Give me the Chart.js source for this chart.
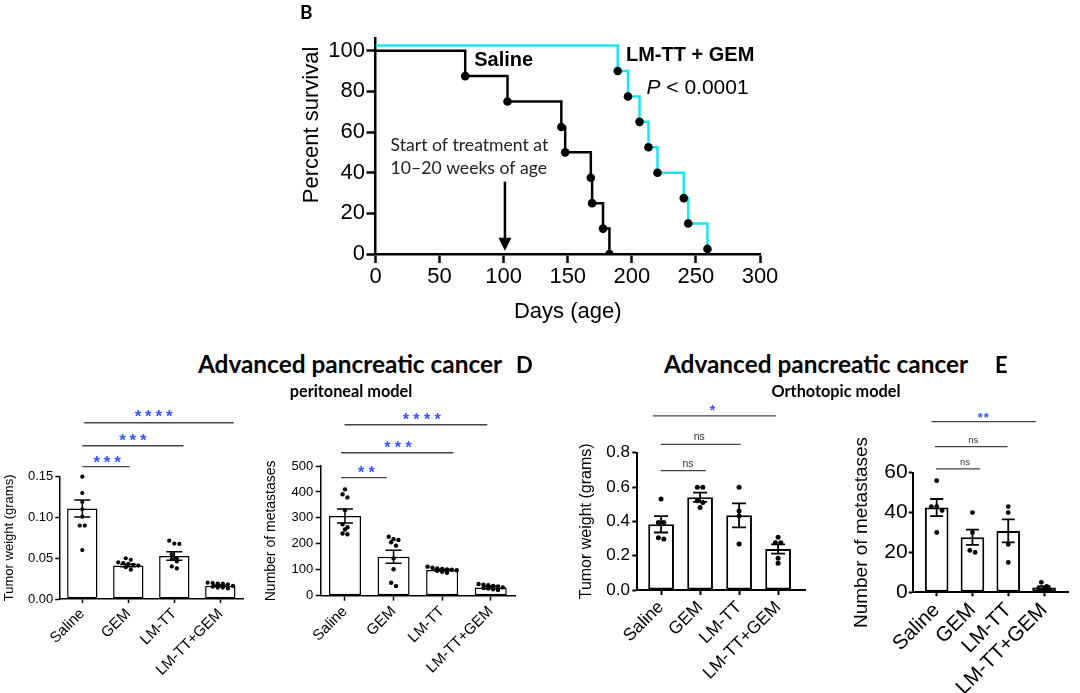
<!DOCTYPE html>
<html><head><meta charset="utf-8">
<script src="https://cdn.jsdelivr.net/npm/chart.js@4.4.1/dist/chart.umd.min.js"></script>
<style>
html,body{margin:0;padding:0;background:#fff;}
#page{position:relative;width:1080px;height:693px;overflow:hidden;background:#fff;}
canvas{position:absolute;}
.t{position:absolute;white-space:nowrap;line-height:1;color:#000;font-family:Lato,"Open Sans",sans-serif;font-weight:700;z-index:5;}
.c{text-align:center;}
</style></head><body>
<div id="page">
  <canvas id="survival" width="500" height="330" style="left:290px;top:0px"></canvas>
  <canvas id="periWeight" width="250" height="298" style="left:0px;top:395px"></canvas>
  <canvas id="periMets" width="270" height="298" style="left:255px;top:395px"></canvas>
  <canvas id="orthoWeight" width="265" height="298" style="left:560px;top:395px"></canvas>
  <canvas id="orthoMets" width="250" height="298" style="left:830px;top:395px"></canvas>

  <div class="t" style="left:300px;top:2px;font-size:19px">B</div>
  <div class="t c" style="left:150px;width:400px;top:352px;font-size:24.4px">Advanced pancreatic cancer</div>
  <div class="t" style="left:516px;top:354px;font-size:22px">D</div>
  <div class="t c" style="left:251px;width:200px;top:382.5px;font-size:16.3px">peritoneal model</div>
  <div class="t c" style="left:616px;width:400px;top:352px;font-size:24.4px">Advanced pancreatic cancer</div>
  <div class="t" style="left:995px;top:354px;font-size:22px">E</div>
  <div class="t c" style="left:736px;width:200px;top:382.5px;font-size:16.3px">Orthotopic model</div>
</div>
<script>
// ---------------- DATA ----------------
const groups = ['Saline', 'GEM', 'LM-TT', 'LM-TT+GEM'];

// B: Kaplan-Meier survival
const salineDays     = [0, 70, 103, 145, 148, 168, 169, 177.5, 182.5];
const salineSurvival = [100, 87.5, 75, 62.5, 50, 37.5, 25, 12.5, 0];
const comboDays      = [0, 189, 197, 206, 213, 220, 240.5, 244, 259];
const comboSurvival  = [102.5, 90, 77.5, 65, 52.5, 40, 27.5, 15, 2.5];
const survivalYTicks = [0, 20, 40, 60, 80, 100];

// D left: peritoneal model, tumor weight (grams)
const periWeightMean = [0.111, 0.041, 0.0527, 0.0163];
const periWeightSem  = [0.0105, 0.0015, 0.0053, 0.001];
const periWeightDots = [
  [0.150, 0.130, 0.119, 0.110, 0.101, 0.090, 0.090, 0.060],
  [0.050, 0.048, 0.045, 0.044, 0.043, 0.042, 0.041, 0.039, 0.036],
  [0.0715, 0.068, 0.0675, 0.055, 0.050, 0.049, 0.046, 0.040, 0.0375],
  [0.020, 0.0195, 0.019, 0.019, 0.018, 0.016, 0.015, 0.014, 0.014, 0.013]
];
const periWeightTicks = [0, 0.05, 0.10, 0.15];
const periWeightSig = ['***', '***', '****'];

// D right: peritoneal model, number of metastases
const periMetsMean = [307, 150, 99, 32];
const periMetsSem  = [27, 25, 3, 4];
const periMetsDots = [
  [410, 391, 379, 330, 275, 264, 255, 240, 237],
  [227, 218, 215, 206, 193, 144, 102, 50, 37],
  [112, 108, 105, 103, 101, 100, 98, 96, 92, 88],
  [45, 42, 40, 38, 36, 32, 30, 28, 25, 22]
];
const periMetsTicks = [0, 100, 200, 300, 400, 500];
const periMetsSig = ['**', '***', '****'];

// E left: orthotopic model, tumor weight (grams)
const orthoWeightMean = [0.383, 0.54, 0.435, 0.239];
const orthoWeightSem  = [0.048, 0.027, 0.07, 0.027];
const orthoWeightDots = [
  [0.530, 0.394, 0.394, 0.305, 0.297],
  [0.598, 0.598, 0.52, 0.51, 0.48],
  [0.598, 0.46, 0.431, 0.268],
  [0.307, 0.276, 0.276, 0.185, 0.156]
];
const orthoWeightTicks = [0, 0.2, 0.4, 0.6, 0.8];
const orthoWeightSig = ['ns', 'ns', '*'];

// E right: orthotopic model, number of metastases
const orthoMetsMean = [42.5, 27.6, 30.8, 2.4];
const orthoMetsSem  = [4.3, 3.8, 5.8, 0.7];
const orthoMetsDots = [
  [56, 43, 43, 41, 30],
  [40, 30, 21, 20],
  [43, 40, 24, 15],
  [5, 3, 2, 2, 1.5]
];
const orthoMetsTicks = [0, 20, 40, 60];
const orthoMetsSig = ['ns', 'ns', '**'];

// ---------------- RENDERING ----------------
const FONT = '"Liberation Sans", Arial, sans-serif';
const CYAN = '#1EE4F2';
const STAR_BLUE = '#3556FF';
Chart.defaults.font.family = FONT;
Chart.defaults.color = '#000';

// Beeswarm-style horizontal spread (deterministic): dots at similar heights form a row
function swarm(vals, thr, step) {
  const idx = vals.map((v, i) => i).sort((a, b) => vals[b] - vals[a]);
  const offs = new Array(vals.length).fill(0);
  let i = 0;
  while (i < idx.length) {
    const first = vals[idx[i]];
    let j = i;
    while (j < idx.length && first - vals[idx[j]] < thr) j++;
    const n = j - i;
    for (let k = 0; k < n; k++) offs[idx[i + k]] = (k - (n - 1) / 2) * step;
    i = j;
  }
  return offs;
}

function noPad(s) { s.paddingLeft = 0; s.paddingRight = 0; s.paddingTop = 0; s.paddingBottom = 0; }

function barPanel(id, mean, sem, dots, yTicks, sigLabels, L) {
  const datasets = [{
    type: 'bar', data: mean.map((m, i) => ({x: i, y: m})),
    backgroundColor: '#fff', borderColor: '#000', borderWidth: L.barBorder,
    borderSkipped: false, barPercentage: 0.66, categoryPercentage: 1, order: 2
  }];
  dots.forEach((vals, g) => {
    const offs = swarm(vals, L.dotThr, L.dotStep);
    datasets.push({
      type: 'scatter', data: vals.map((v, k) => ({x: g + offs[k], y: v})),
      pointRadius: L.dotR, pointBackgroundColor: '#000', pointBorderWidth: 0,
      pointHoverRadius: L.dotR, order: 1, clip: false
    });
  });
  const errPlugin = {
    id: 'err' + id,
    afterDatasetDraw(chart, args) {
      if (args.index !== 0) return;
      const {ctx, scales: {x, y}} = chart;
      ctx.save();
      ctx.strokeStyle = '#000'; ctx.lineWidth = L.errW;
      mean.forEach((m, i) => {
        const px = x.getPixelForValue(i);
        const top = y.getPixelForValue(m + sem[i]), bot = y.getPixelForValue(m - sem[i]);
        ctx.beginPath();
        ctx.moveTo(px, top); ctx.lineTo(px, bot);
        ctx.moveTo(px - L.cap, top); ctx.lineTo(px + L.cap, top);
        ctx.moveTo(px - L.cap, bot); ctx.lineTo(px + L.cap, bot);
        ctx.stroke();
      });
      ctx.restore();
    }
  };
  const sigPlugin = {
    id: 'sig' + id,
    afterDraw(chart) {
      const {ctx, scales: {x, y}} = chart;
      ctx.save();
      L.sig.forEach((s, i) => {
        const yy = y.getPixelForValue(s.y);
        ctx.strokeStyle = L.sigColor; ctx.lineWidth = L.sigW;
        ctx.beginPath();
        ctx.moveTo(x.getPixelForValue(s.x0), yy); ctx.lineTo(x.getPixelForValue(s.x1), yy);
        ctx.stroke();
        const label = sigLabels[i];
        const cx = x.getPixelForValue(s.lx), cy = y.getPixelForValue(s.ly);
        if (label === 'ns') {
          ctx.font = L.nsSize + 'px ' + FONT; ctx.fillStyle = '#333';
          ctx.textAlign = 'center'; ctx.textBaseline = 'middle';
          ctx.fillText(label, cx, cy);
        } else {
          ctx.font = 'bold ' + L.starSize + 'px ' + FONT; ctx.fillStyle = STAR_BLUE;
          ctx.textAlign = 'center'; ctx.textBaseline = 'alphabetic';
          const n = label.length;
          for (let k = 0; k < n; k++) {
            ctx.fillText('*', cx + (k - (n - 1) / 2) * L.starPitch, cy + 0.58 * L.starSize);
          }
        }
      });
      ctx.restore();
    }
  };
  new Chart(document.getElementById(id), {
    type: 'bar',
    data: {datasets},
    options: {
      responsive: false, animation: false,
      layout: {padding: {top: L.padTop, right: L.padRight, left: 0, bottom: 0}},
      plugins: {legend: {display: false}, tooltip: {enabled: false}},
      scales: {
        x: {
          type: 'linear', min: L.xMin, max: L.xMax, offset: false,
          afterBuildTicks: s => { s.ticks = groups.map((g, i) => ({value: i})); },
          ticks: {callback: v => groups[v], autoSkip: false, maxRotation: 45, minRotation: 45,
                  font: {size: L.xFont}, color: '#000', padding: L.xPad},
          grid: {offset: false, drawOnChartArea: false, drawTicks: true, tickLength: L.tick, tickWidth: L.axisW, tickColor: '#000'},
          border: {color: '#000', width: L.axisW},
          afterFit: s => { s.height = L.xH; noPad(s); }
        },
        y: {
          min: 0, max: L.yMax,
          afterBuildTicks: s => { s.ticks = yTicks.map(v => ({value: v})); },
          ticks: {callback: v => Number(v).toFixed(L.yDec), font: {size: L.yFont}, color: '#000', padding: L.yPad},
          grid: {drawOnChartArea: false, drawTicks: true, tickLength: L.tick, tickWidth: L.axisW, tickColor: '#000'},
          border: {color: '#000', width: L.axisW},
          title: {display: true, text: L.yTitle, font: {size: L.yTitleSize}, color: '#000', padding: {top: L.yTitlePad, bottom: 0}},
          afterFit: s => { s.width = L.yW; noPad(s); }
        }
      }
    },
    plugins: [errPlugin, sigPlugin]
  });
}

barPanel('periWeight', periWeightMean, periWeightSem, periWeightDots, periWeightTicks, periWeightSig, {
  padTop: 81.7, padRight: 6.7, xH: 94, yW: 59.3, xMin: -0.5, xMax: 3.5,
  yMax: 0.15, yDec: 2, yFont: 13, xFont: 15, xPad: 2, yPad: 2, tick: 4, axisW: 1.5,
  yTitle: 'Tumor weight (grams)', yTitleSize: 13, yTitlePad: 1.5,
  barBorder: 1.5, errW: 1.5, cap: 8, dotR: 2.1, dotThr: 0.005, dotStep: 0.11,
  sigColor: '#444', sigW: 1.4, starSize: 17, starPitch: 10.4, nsSize: 10,
  sig: [{x0: 0, x1: 1.03, y: 0.1623, lx: 0.54, ly: 0.173},
        {x0: 0, x1: 2.2, y: 0.188, lx: 1.1, ly: 0.200},
        {x0: 0.04, x1: 3.29, y: 0.2162, lx: 1.55, ly: 0.229}]
});

barPanel('periMets', periMetsMean, periMetsSem, periMetsDots, periMetsTicks, periMetsSig, {
  padTop: 71, padRight: 10, xH: 97.3, yW: 65.7, xMin: -0.5, xMax: 3.5,
  yMax: 500, yDec: 0, yFont: 13, xFont: 15, xPad: 2, yPad: 2.4, tick: 5, axisW: 1.5,
  yTitle: 'Number of metastases', yTitleSize: 14, yTitlePad: 7.3,
  barBorder: 1.5, errW: 1.5, cap: 8, dotR: 2.2, dotThr: 15, dotStep: 0.1,
  sigColor: '#444', sigW: 1.4, starSize: 16, starPitch: 10.6, nsSize: 10,
  sig: [{x0: -0.08, x1: 0.86, y: 455, lx: 0.44, ly: 488},
        {x0: -0.08, x1: 2.23, y: 551, lx: 1.09, ly: 585},
        {x0: -0.01, x1: 2.93, y: 659, lx: 1.58, ly: 693}]
});

barPanel('orthoWeight', orthoWeightMean, orthoWeightSem, orthoWeightDots, orthoWeightTicks, orthoWeightSig, {
  padTop: 57.7, padRight: 20, xH: 103, yW: 77.3, xMin: -0.61, xMax: 3.69,
  yMax: 0.8, yDec: 1, yFont: 17, xFont: 17.5, xPad: 2, yPad: 2.3, tick: 5, axisW: 2,
  yTitle: 'Tumor weight (grams)', yTitleSize: 16, yTitlePad: 17.1,
  barBorder: 2, errW: 1.8, cap: 7, dotR: 2.5, dotThr: 0.028, dotStep: 0.14,
  sigColor: '#444', sigW: 1.3, starSize: 14, starPitch: 8, nsSize: 10.5,
  sig: [{x0: -0.01, x1: 1.15, y: 0.695, lx: 0.69, ly: 0.734},
        {x0: -0.01, x1: 2.04, y: 0.849, lx: 0.98, ly: 0.89},
        {x0: -0.21, x1: 2.94, y: 1.014, lx: 1.32, ly: 1.068}]
});

barPanel('orthoMets', orthoMetsMean, orthoMetsSem, orthoMetsDots, orthoMetsTicks, orthoMetsSig, {
  padTop: 77.7, padRight: 12, xH: 100.7, yW: 82.7, xMin: -0.67, xMax: 3.67,
  yMax: 60, yDec: 0, yFont: 21, xFont: 20.5, xPad: 2, yPad: 1, tick: 4, axisW: 2,
  yTitle: 'Number of metastases', yTitleSize: 19, yTitlePad: 20.3,
  barBorder: 2, errW: 1.8, cap: 6.5, dotR: 2.4, dotThr: 2.5, dotStep: 0.15,
  sigColor: '#444', sigW: 1.3, starSize: 13, starPitch: 6, nsSize: 9.5,
  sig: [{x0: -0.02, x1: 1.21, y: 61.9, lx: 0.79, ly: 65},
        {x0: -0.05, x1: 1.98, y: 73.1, lx: 1.02, ly: 76.4},
        {x0: -0.14, x1: 2.77, y: 85.6, lx: 1.3, ly: 89}]
});

// ---- Survival (B) ----
const survivalNotes = {
  id: 'survivalNotes',
  afterDraw(chart) {
    const {ctx, scales: {x, y}} = chart;
    ctx.save();
    ctx.fillStyle = '#000'; ctx.strokeStyle = '#000';
    // y-axis title (sits slightly above the axis middle, as in the original)
    ctx.save();
    ctx.translate(21.7, y.getPixelForValue(63.5));
    ctx.rotate(-Math.PI / 2);
    ctx.font = '22px ' + FONT; ctx.textAlign = 'center'; ctx.textBaseline = 'middle';
    ctx.fillText('Percent survival', 0, 0);
    ctx.restore();
    // treatment arrow
    const ax = x.getPixelForValue(101), y0 = y.getPixelForValue(35.6), y1 = y.getPixelForValue(1.6);
    ctx.lineWidth = 2.5;
    ctx.beginPath(); ctx.moveTo(ax, y0); ctx.lineTo(ax, y1 - 11); ctx.stroke();
    ctx.beginPath(); ctx.moveTo(ax - 6.5, y1 - 13); ctx.lineTo(ax + 6.5, y1 - 13); ctx.lineTo(ax, y1); ctx.closePath(); ctx.fill();
    // labels
    ctx.textBaseline = 'middle';
    ctx.textAlign = 'center';
    ctx.font = 'bold 20px ' + FONT;
    ctx.fillText('Saline', x.getPixelForValue(100), y.getPixelForValue(95));
    ctx.fillText('LM-TT + GEM', x.getPixelForValue(245.5), y.getPixelForValue(97.5));
    ctx.textAlign = 'left';
    let px = x.getPixelForValue(211.4);
    const py = y.getPixelForValue(81.7);
    ctx.font = 'italic 21px ' + FONT;
    ctx.fillText('P', px, py);
    px += ctx.measureText('P').width;
    ctx.font = '21px ' + FONT;
    ctx.fillText(' < 0.0001', px, py);
    ctx.font = '17.6px Lato, "Open Sans", sans-serif';
    ctx.fillStyle = '#222';
    ctx.fillText('Start of treatment at', x.getPixelForValue(11.8), y.getPixelForValue(53.6));
    ctx.fillText('10\u201320 weeks of age', x.getPixelForValue(11.8), y.getPixelForValue(42.3));
    ctx.restore();
  }
};

const kmPoint = c => (c.dataIndex === 0 ? 0 : 4.3);
new Chart(document.getElementById('survival'), {
  type: 'line',
  data: {datasets: [
    {label: 'Saline', data: salineDays.map((d, i) => ({x: d, y: salineSurvival[i]})),
     stepped: true, borderColor: '#000', borderWidth: 2.5, fill: false,
     pointRadius: kmPoint, pointHoverRadius: kmPoint, pointBackgroundColor: '#000', pointBorderWidth: 0},
    {label: 'LM-TT + GEM', data: comboDays.map((d, i) => ({x: d, y: comboSurvival[i]})),
     stepped: true, borderColor: CYAN, borderWidth: 2.5, fill: false,
     pointRadius: kmPoint, pointHoverRadius: kmPoint, pointBackgroundColor: '#000', pointBorderWidth: 0}
  ]},
  options: {
    responsive: false, animation: false,
    layout: {padding: {top: 38.5, right: 30, left: 0, bottom: 0}},
    plugins: {legend: {display: false}, tooltip: {enabled: false}},
    scales: {
      x: {
        type: 'linear', min: 0, max: 300,
        ticks: {stepSize: 50, font: {size: 22}, color: '#000', padding: 0.5, maxRotation: 0},
        grid: {drawOnChartArea: false, drawTicks: true, tickLength: 9, tickWidth: 2.5, tickColor: '#000'},
        border: {color: '#000', width: 2.5},
        title: {display: true, text: 'Days (age)', font: {size: 22}, color: '#000', padding: {top: 0, bottom: 5.1}},
        afterFit: s => { s.height = 76; noPad(s); }
      },
      y: {
        min: 0, max: 106,
        afterBuildTicks: s => { s.ticks = survivalYTicks.map(v => ({value: v})); },
        ticks: {font: {size: 22}, color: '#000', padding: 1.5},
        grid: {drawOnChartArea: false, drawTicks: true, tickLength: 9, tickWidth: 2.5, tickColor: '#000'},
        border: {color: '#000', width: 2.5},
        afterFit: s => { s.width = 85.5; noPad(s); }
      }
    }
  },
  plugins: [survivalNotes]
});
</script>
</body></html>
